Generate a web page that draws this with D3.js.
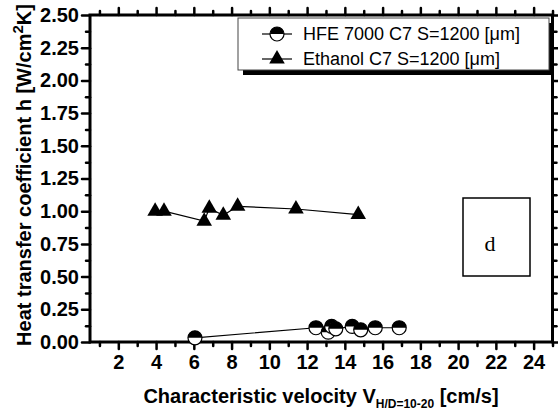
<!DOCTYPE html>
<html><head><meta charset="utf-8">
<script src="https://cdn.jsdelivr.net/npm/d3@7"></script>
<style>
html,body{margin:0;padding:0;background:#fff;}
svg{display:block;}
</style></head>
<body>
<script>
// ---- data ----
const hfeX = [6.06, 12.47, 13.12, 13.30, 13.52, 14.39, 14.84, 15.61, 16.88];
const hfeY = [0.032, 0.109, 0.075, 0.119, 0.101, 0.119, 0.093, 0.109, 0.109];
const ethX = [3.95, 4.42, 6.55, 6.82, 7.56, 8.32, 11.41, 14.71];
const ethY = [1.00, 1.00, 0.924, 1.022, 0.969, 1.037, 1.017, 0.974];
const xMajorTicks = [2,4,6,8,10,12,14,16,18,20,22,24];
const xMinorTicks = [1,3,5,7,9,11,13,15,17,19,21,23,25];
const yMajorTicks = [0,0.25,0.5,0.75,1.0,1.25,1.5,1.75,2.0,2.25,2.5];
const yMinorTicks = [0.125,0.375,0.625,0.875,1.125,1.375,1.625,1.875,2.125,2.375];
const seriesNames = ["HFE 7000 C7 S=1200 [\u03bcm]", "Ethanol C7 S=1200 [\u03bcm]"];
const panelLabel = "d";

const W = 558, H = 411;
const svg = d3.select("body").append("svg").attr("width", W).attr("height", H);
const FONT = "'Liberation Sans', Arial, Helvetica, sans-serif";

const x = d3.scaleLinear().domain([0.5, 25]).range([90, 552.5]);
const y = d3.scaleLinear().domain([0, 2.5]).range([342, 15]);

function styleAxis(g) {
  g.select(".domain").remove();
  g.selectAll(".tick line").attr("stroke", "#000").attr("stroke-width", 2.5).attr("stroke-linecap", "round");
  g.selectAll(".tick text").attr("fill", "#000").style("font-family", FONT)
    .style("font-weight", "bold").style("font-size", "20px");
}

// bottom
svg.append("g").attr("transform", `translate(0,${y(0)})`)
  .call(d3.axisBottom(x).tickValues(xMajorTicks).tickSize(7).tickPadding(6).tickFormat(d3.format("d")))
  .call(styleAxis);
svg.append("g").attr("transform", `translate(0,${y(0)})`)
  .call(d3.axisBottom(x).tickValues(xMinorTicks).tickSize(4).tickFormat(""))
  .call(styleAxis);
// top
svg.append("g").attr("transform", `translate(0,${y(2.5)})`)
  .call(d3.axisTop(x).tickValues(xMajorTicks).tickSize(7).tickFormat(""))
  .call(styleAxis);
svg.append("g").attr("transform", `translate(0,${y(2.5)})`)
  .call(d3.axisTop(x).tickValues(xMinorTicks).tickSize(4).tickFormat(""))
  .call(styleAxis);
// left
svg.append("g").attr("transform", `translate(${x(0.5)},0)`)
  .call(d3.axisLeft(y).tickValues(yMajorTicks).tickSize(8).tickPadding(3).tickFormat(d3.format(".2f")))
  .call(styleAxis);
svg.append("g").attr("transform", `translate(${x(0.5)},0)`)
  .call(d3.axisLeft(y).tickValues(yMinorTicks).tickSize(4).tickFormat(""))
  .call(styleAxis);
// right
svg.append("g").attr("transform", `translate(${x(25)},0)`)
  .call(d3.axisRight(y).tickValues(yMajorTicks).tickSize(6).tickFormat(""))
  .call(styleAxis);
svg.append("g").attr("transform", `translate(${x(25)},0)`)
  .call(d3.axisRight(y).tickValues(yMinorTicks).tickSize(4).tickFormat(""))
  .call(styleAxis);

// frame
svg.append("rect").attr("x", x(0.5)).attr("y", y(2.5))
  .attr("width", x(25) - x(0.5)).attr("height", y(0) - y(2.5))
  .attr("fill", "none").attr("stroke", "#000").attr("stroke-width", 3);

// lines
const line = d3.line().x(d => x(d[0])).y(d => y(d[1]));
const hfe = hfeX.map((v, i) => [v, hfeY[i]]);
const eth = ethX.map((v, i) => [v, ethY[i]]);
svg.append("path").datum(hfe).attr("d", line).attr("fill", "none").attr("stroke", "#000").attr("stroke-width", 1.2);
svg.append("path").datum(eth).attr("d", line).attr("fill", "none").attr("stroke", "#000").attr("stroke-width", 1.2);

const R = 7;
function halfCircle(sel) {
  sel.append("circle").attr("r", R).attr("fill", "#fff").attr("stroke", "#000").attr("stroke-width", 1.2);
  sel.append("path").attr("d", `M${-R},0 A${R},${R} 0 0 1 ${R},0 Z`).attr("fill", "#000");
}
const tri = d3.symbol().type(d3.symbolTriangle).size(105);

svg.append("g").selectAll("g").data(hfe).join("g")
  .attr("transform", d => `translate(${x(d[0])},${y(d[1])})`)
  .each(function() { halfCircle(d3.select(this)); });
svg.append("g").selectAll("path").data(eth).join("path")
  .attr("transform", d => `translate(${x(d[0])},${y(d[1])})`)
  .attr("d", tri).attr("fill", "#000");

// legend
const lg = svg.append("g");
lg.append("rect").attr("x", 243).attr("y", 23).attr("width", 311).attr("height", 52).attr("fill", "#000");
lg.append("rect").attr("x", 238).attr("y", 18).attr("width", 311).attr("height", 52)
  .attr("fill", "#fff").attr("stroke", "#444").attr("stroke-width", 1);
const rows = [34, 59];
rows.forEach((ry, i) => {
  lg.append("line").attr("x1", 262).attr("x2", 292).attr("y1", ry).attr("y2", ry)
    .attr("stroke", "#000").attr("stroke-width", 1.2);
  const m = lg.append("g").attr("transform", `translate(277,${ry})`);
  if (i === 0) halfCircle(m); else m.append("path").attr("d", tri).attr("fill", "#000");
  lg.append("text").attr("x", 303).attr("y", ry + 6).text(seriesNames[i])
    .style("font-family", FONT).style("font-size", "18px").attr("fill", "#000");
});

// panel label box
svg.append("rect").attr("x", 463).attr("y", 198).attr("width", 67).attr("height", 78)
  .attr("fill", "#fff").attr("stroke", "#000").attr("stroke-width", 1.5);
svg.append("text").attr("x", 490).attr("y", 251).attr("text-anchor", "middle").text(panelLabel)
  .style("font-family", "'Liberation Serif', 'Times New Roman', serif").style("font-size", "22px");

// axis titles
const xt = svg.append("text").attr("x", 321).attr("y", 403).attr("text-anchor", "middle")
  .style("font-family", FONT).style("font-weight", "bold").style("font-size", "20px").attr("fill", "#000");
xt.append("tspan").text("Characteristic velocity V");
xt.append("tspan").attr("dy", 5).style("font-size", "12px").text("H/D=10-20");
xt.append("tspan").attr("dy", -5).text(" [cm/s]");

const yt = svg.append("text").attr("transform", "translate(31,175) rotate(-90)").attr("text-anchor", "middle")
  .style("font-family", FONT).style("font-weight", "bold").style("font-size", "20px").attr("fill", "#000");
yt.append("tspan").text("Heat transfer coefficient h [W/cm");
yt.append("tspan").attr("dy", -8).style("font-size", "15px").text("2");
yt.append("tspan").attr("dy", 8).text("K]");
</script>
</body></html>
